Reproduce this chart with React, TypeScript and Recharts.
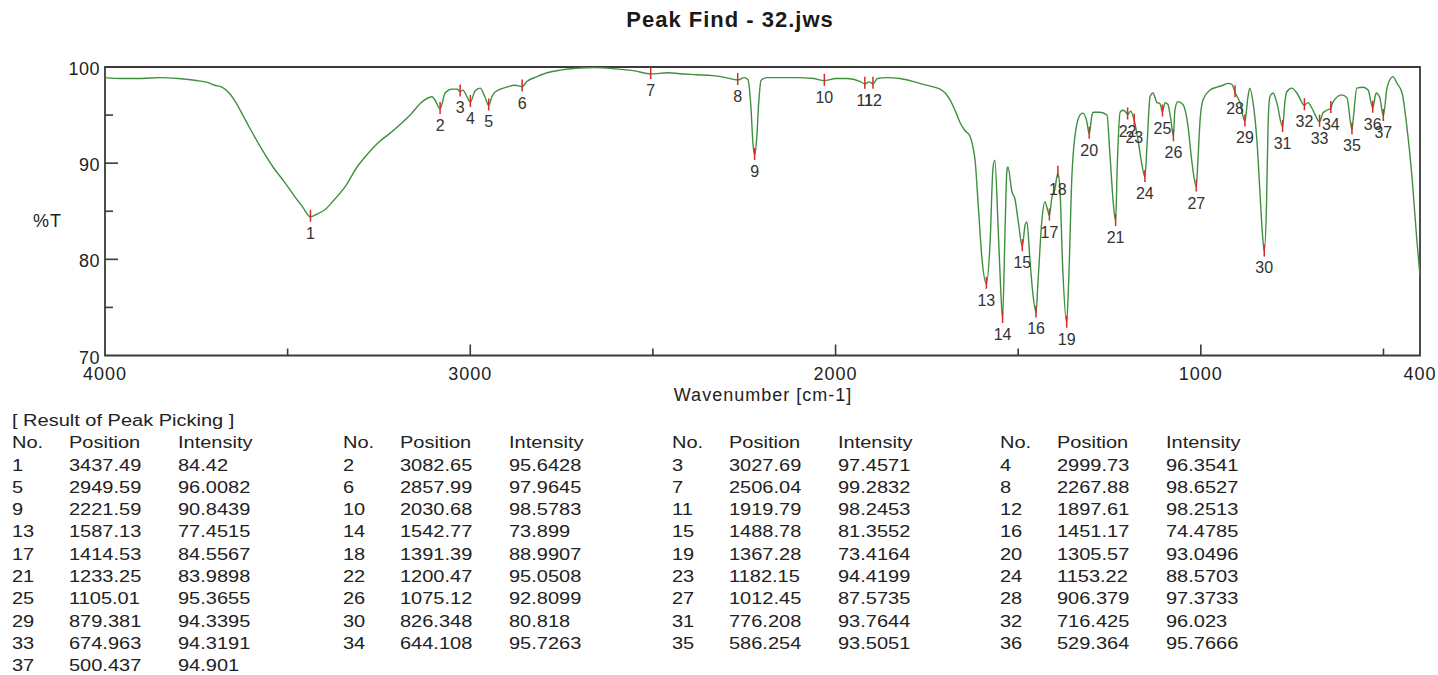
import { ComposedChart, Line, Scatter, XAxis, YAxis, ReferenceArea } from "recharts";

// Trace readings along the spectrum: [wavenumber cm-1, %T], high to low wavenumber
const trace: [number, number][] = [
  [4000, 98.9], [3950, 98.8], [3900, 98.8], [3850, 98.9], [3800, 98.8], [3750, 98.6],
  [3720, 98.4], [3700, 98.1], [3680, 97.9], [3660, 97.3], [3640, 96.2], [3620, 94.8],
  [3600, 93.4], [3570, 91.4], [3540, 89.6], [3510, 88.1], [3480, 86.5], [3460, 85.5],
  [3420, 84.7], [3400, 85.1], [3370, 86.3], [3340, 87.7], [3310, 89.6], [3280, 91.0],
  [3250, 92.2], [3220, 93.1], [3190, 94.1], [3160, 95.2], [3137, 96.2], [3105, 96.9],
  [3097, 96.6], [3069, 97.3], [3050, 97.7], [3036, 97.7], [3020, 97.6], [3009, 96.9],
  [2987, 97.5], [2973, 97.8], [2960, 96.9], [2941, 96.9], [2932, 97.4], [2900, 97.9],
  [2878, 98.1], [2845, 98.5], [2817, 99.0], [2790, 99.4], [2750, 99.7], [2700, 99.9],
  [2660, 99.95], [2600, 99.8], [2550, 99.6], [2460, 99.4], [2426, 99.3], [2380, 99.2],
  [2336, 99.1], [2300, 98.9], [2250, 98.9], [2240, 98.7], [2232, 96.0], [2226, 92.0],
  [2216, 92.5], [2210, 96.5], [2204, 98.6], [2188, 98.9], [2106, 98.9], [2060, 98.8],
  [2000, 98.8], [1969, 98.8], [1933, 98.5], [1908, 98.45], [1885, 98.8], [1860, 98.9],
  [1824, 98.8], [1788, 98.5], [1760, 98.2], [1730, 97.9], [1714, 97.7], [1700, 97.3],
  [1687, 96.6], [1673, 95.5], [1659, 94.2], [1646, 93.4], [1632, 92.8], [1624, 91.7],
  [1618, 90.3], [1610, 86.0], [1599, 80.0], [1577, 81.7], [1569, 89.5], [1564, 90.3],
  [1555, 83.4], [1548, 77.0], [1536, 83.0], [1531, 89.2], [1528, 89.6], [1517, 87.0],
  [1509, 86.3], [1500, 84.0], [1481, 83.6], [1476, 83.9], [1468, 80.0], [1460, 76.5],
  [1446, 77.5], [1435, 84.1], [1427, 86.0], [1420, 85.2], [1408, 86.4], [1400, 87.2],
  [1386, 87.5], [1378, 79.0], [1362, 77.5], [1353, 88.6], [1345, 92.7], [1331, 95.0],
  [1323, 95.2], [1312, 94.3], [1298, 95.0], [1295, 95.3], [1276, 95.3], [1257, 95.0],
  [1249, 91.0], [1240, 86.0], [1229, 89.5], [1221, 95.3], [1213, 95.5], [1205, 95.3],
  [1192, 95.4], [1172, 92.4], [1162, 90.0], [1147, 92.1], [1139, 96.9], [1131, 97.3],
  [1120, 96.3], [1112, 96.2], [1098, 96.3], [1090, 96.1], [1082, 94.5], [1071, 95.5],
  [1063, 96.4], [1049, 96.1], [1035, 93.8], [1025, 90.3], [1008, 90.3], [1002, 94.5],
  [994, 96.6], [975, 97.6], [956, 97.9], [939, 98.1], [926, 98.3], [915, 98.2],
  [893, 96.3], [871, 96.9], [866, 97.8], [857, 96.3], [846, 92.1], [838, 86.9],
  [832, 83.0], [820, 86.0], [816, 93.8], [811, 96.9], [802, 97.3], [792, 96.3],
  [770, 96.3], [765, 97.4], [751, 97.8], [737, 97.3], [707, 96.3], [693, 95.5],
  [666, 95.2], [655, 95.5], [639, 96.3], [614, 97.1], [600, 96.8], [583, 94.5],
  [573, 97.8], [556, 97.9], [542, 97.6], [520, 97.3], [510, 96.8], [490, 97.9],
  [474, 99.0], [463, 98.3], [449, 97.3], [436, 93.8], [422, 88.6], [408, 81.7],
  [400, 78.3],
];

// Peak picking result
const peakNo = [
  1, 2, 3, 4, 5, 6, 7, 8, 9, 10, 11, 12, 13, 14, 15, 16, 17, 18, 19,
  20, 21, 22, 23, 24, 25, 26, 27, 28, 29, 30, 31, 32, 33, 34, 35, 36, 37,
];
const peakPos = [
  3437.49, 3082.65, 3027.69, 2999.73, 2949.59, 2857.99, 2506.04, 2267.88, 2221.59,
  2030.68, 1919.79, 1897.61, 1587.13, 1542.77, 1488.78, 1451.17, 1414.53, 1391.39,
  1367.28, 1305.57, 1233.25, 1200.47, 1182.15, 1153.22, 1105.01, 1075.12, 1012.45,
  906.379, 879.381, 826.348, 776.208, 716.425, 674.963, 644.108, 586.254, 529.364,
  500.437,
];
const peakInt = [
  84.42, 95.6428, 97.4571, 96.3541, 96.0082, 97.9645, 99.2832, 98.6527, 90.8439,
  98.5783, 98.2453, 98.2513, 77.4515, 73.899, 81.3552, 74.4785, 84.5567, 88.9907,
  73.4164, 93.0496, 83.9898, 95.0508, 94.4199, 88.5703, 95.3655, 92.8099, 87.5735,
  97.3733, 94.3395, 80.818, 93.7644, 96.023, 94.3191, 95.7263, 93.5051, 95.7666,
  94.901,
];

const xTicks = [4000, 3500, 3000, 2500, 2000, 1500, 1000, 500, 400];
const xMajor = [3000, 2000, 1000];
const xLabels = [4000, 3000, 2000, 1000, 400];
const yTicks = [70, 75, 80, 85, 90, 95, 100];
const yLabels = [70, 80, 90, 100];

const FONT = "'Liberation Sans', Arial, sans-serif";
const AXIS = "#3a3a3a";
const TEXT = "#222";

const peaks = peakNo.map((no, i) => ({ no, wn: peakPos[i], t: peakInt[i] }));
const spectrum = [
  ...trace.map(([wn, t]) => ({ wn, t })),
  ...peaks.map((p) => ({ wn: p.wn, t: p.t })),
].sort((a, b) => b.wn - a.wn);

// inward tick marks + labels on the bottom axis
const XTick = (props: any) => {
  const { x, y, payload } = props;
  const v = payload.value;
  const edge = v === 4000 || v === 400;
  return (
    <g>
      {!edge && (
        <line x1={x} x2={x} y1={y} y2={y - (xMajor.includes(v) ? 11 : 7)} stroke={AXIS} strokeWidth={1.6} />
      )}
      {xLabels.includes(v) && (
        <text x={x} y={y + 24} textAnchor="middle" fontSize={18} letterSpacing={1} fill={TEXT} fontFamily={FONT}>
          {v}
        </text>
      )}
    </g>
  );
};

const YTick = (props: any) => {
  const { x, y, payload } = props;
  const v = payload.value;
  const edge = v === 70 || v === 100;
  return (
    <g>
      {!edge && (
        <line x1={x} x2={x + (v % 10 === 0 ? 13 : 8)} y1={y} y2={y} stroke={AXIS} strokeWidth={1.6} />
      )}
      {yLabels.includes(v) && (
        <text x={x - 5} y={y + 8} textAnchor="end" fontSize={18} letterSpacing={0.5} fill={TEXT} fontFamily={FONT}>
          {v}
        </text>
      )}
    </g>
  );
};

// red pick marker with its number underneath
const PeakMark = (props: any) => {
  const { cx, cy, payload } = props;
  return (
    <g>
      <line x1={cx} x2={cx} y1={cy - 7} y2={cy + 5} stroke="#d42a2a" strokeWidth={1.5} />
      <text x={cx} y={cy + 22} textAnchor="middle" fontSize={16} fill="#333" fontFamily={FONT}>
        {payload.no}
      </text>
    </g>
  );
};

const groupX = [12, 343, 672, 1000];
const colX = [0, 57, 166];
const rowY0 = 465.5;
const rowStep = 22.3;

// table text is set a little wide, like the instrument printout
const cell = (text: string, left: number, centerY: number, key: string) => (
  <div
    key={key}
    style={{
      position: "absolute",
      left,
      top: centerY - 11,
      height: 22,
      lineHeight: "22px",
      whiteSpace: "nowrap",
      transform: "scaleX(1.25)",
      transformOrigin: "left center",
    }}
  >
    {text}
  </div>
);

export default function App() {
  const rows: JSX.Element[] = [];
  groupX.forEach((gx, g) => {
    rows.push(cell("No.", gx + colX[0], rowY0 - rowStep, `h${g}a`));
    rows.push(cell("Position", gx + colX[1], rowY0 - rowStep, `h${g}b`));
    rows.push(cell("Intensity", gx + colX[2], rowY0 - rowStep, `h${g}c`));
  });
  peaks.forEach((p, i) => {
    const g = i % 4;
    const r = Math.floor(i / 4);
    const cy = rowY0 + r * rowStep;
    rows.push(cell(String(p.no), groupX[g] + colX[0], cy, `n${i}`));
    rows.push(cell(String(p.wn), groupX[g] + colX[1], cy, `p${i}`));
    rows.push(cell(String(p.t), groupX[g] + colX[2], cy, `t${i}`));
  });

  return (
    <div
      style={{
        position: "absolute",
        left: 0,
        top: 0,
        width: 1438,
        height: 675,
        background: "#fff",
        fontFamily: FONT,
        color: TEXT,
        overflow: "hidden",
      }}
    >
      <div
        style={{
          position: "absolute",
          left: 530,
          width: 400,
          top: 7,
          textAlign: "center",
          fontSize: 22,
          fontWeight: "bold",
          letterSpacing: 1,
          color: "#1a1a1a",
        }}
      >
        Peak Find - 32.jws
      </div>

      <ComposedChart
        width={1438}
        height={400}
        margin={{ top: 67, right: 18, bottom: 0, left: 0 }}
        style={{ position: "absolute", left: 0, top: 0 }}
      >
        <XAxis
          type="number"
          dataKey="wn"
          domain={[400, 4000]}
          reversed
          ticks={xTicks}
          interval={0}
          axisLine={false}
          tickLine={false}
          tickSize={0}
          tickMargin={0}
          height={44.5}
          tick={<XTick />}
          allowDataOverflow
        />
        <YAxis
          type="number"
          domain={[70, 100]}
          ticks={yTicks}
          interval={0}
          axisLine={false}
          tickLine={false}
          tickSize={0}
          tickMargin={0}
          width={105}
          tick={<YTick />}
          allowDataOverflow
        />
        <ReferenceArea x1={4000} x2={400} y1={70} y2={100} fill="none" stroke={AXIS} strokeWidth={1.8} />
        <Line
          data={spectrum}
          dataKey="t"
          type="monotone"
          stroke="#3f8f3f"
          strokeWidth={1.4}
          dot={false}
          isAnimationActive={false}
        />
        <Scatter data={peaks} dataKey="t" shape={<PeakMark />} isAnimationActive={false} />
      </ComposedChart>

      <div style={{ position: "absolute", left: 33, top: 211, fontSize: 18, letterSpacing: 1 }}>%T</div>
      <div
        style={{ position: "absolute", left: 563, width: 400, top: 385, textAlign: "center", fontSize: 18, letterSpacing: 1 }}
      >
        Wavenumber [cm-1]
      </div>

      <div style={{ fontSize: 16 }}>
        {cell("[ Result of Peak Picking ]", 12, rowY0 - 2 * rowStep, "title")}
        {rows}
      </div>
    </div>
  );
}
